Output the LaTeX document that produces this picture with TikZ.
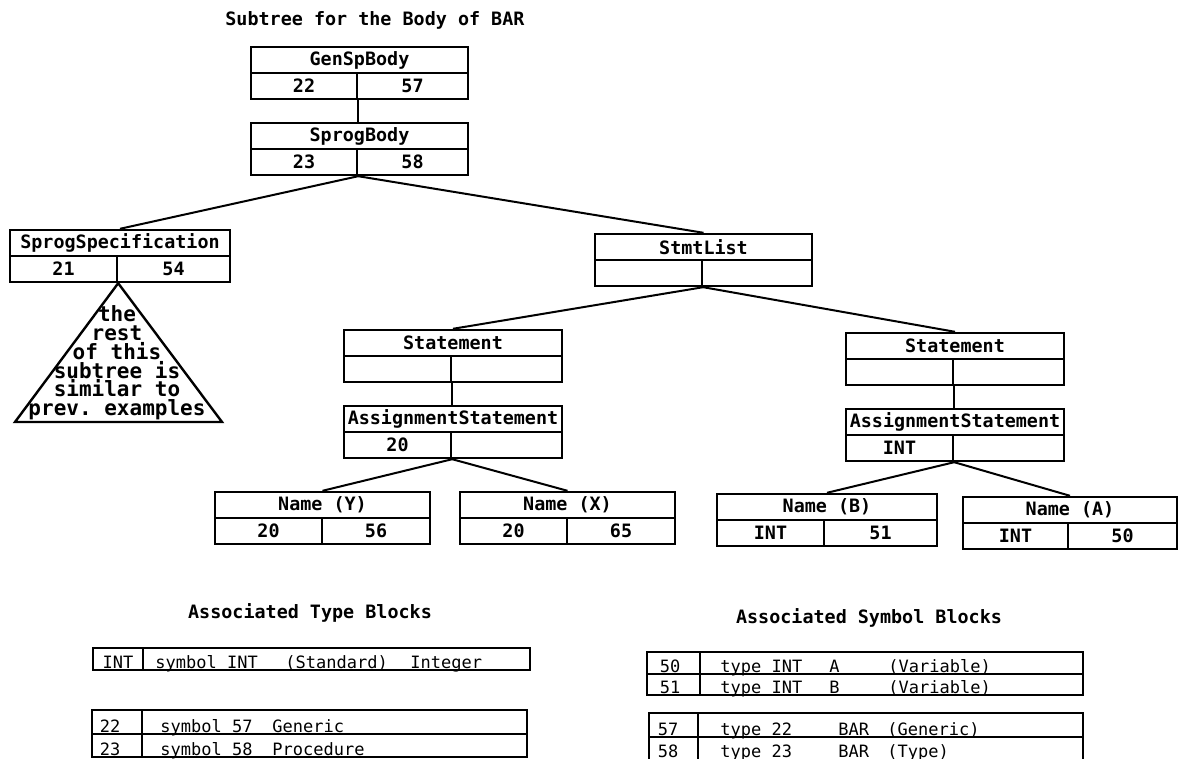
\documentclass[tikz,border=0pt]{standalone}
\usepackage{fontspec}
\setmonofont{DejaVu Sans Mono}
\usetikzlibrary{fit}
\tikzset{box/.style = {draw, line width=1.2pt, inner sep=0,
                       label={[font=\ttfamily\bfseries\fontsize{9.2}{11}\selectfont]center:#1}}}
\tikzset{link/.style = {line width=1pt}}
\tikzset{frame/.style = {line width=1.2pt}}
\tikzset{heading/.style = {inner sep=0, font=\ttfamily\bfseries\fontsize{9.2}{11}\selectfont}}
\tikzset{cell/.style = {inner sep=0, anchor=base west,
                        font=\ttfamily\fontsize{8.5}{10}\selectfont}}
% one tree record: name, left, divider, right, top, title, left field, right field
\newcommand{\recbox}[8]{%
  \node[box={#6}, fit={(#2,#5) ({#4},{#5+26})}] (#1) {};
  \node[box={#7}, fit={({#2},{#5+26}) ({#3},{#5+52})}] (#1-a) {};
  \node[box={#8}, fit={({#3},{#5+26}) ({#4},{#5+52})}] (#1-b) {};
}

\begin{document}
\begin{tikzpicture}[x=0.5pt, y=-0.5pt]
  \useasboundingbox (0,0) rectangle (1189,759);
  \node[heading, anchor=west] (title) at (225,20) {Subtree for the Body of BAR};

  \recbox{gsb}{251}{357}{468}{47}{GenSpBody}{22}{57}
  \recbox{spb}{251}{357}{468}{123}{SprogBody}{23}{58}
  \recbox{spec}{10}{117}{230}{230}{SprogSpecification}{21}{54}
  \recbox{stl}{595}{702}{812}{234}{StmtList}{}{}
  \recbox{stA}{344}{451}{562}{330}{Statement}{}{}
  \recbox{asA}{344}{451}{562}{406}{AssignmentStatement}{20}{}
  \recbox{nY}{215}{322}{430}{492}{Name (Y)}{20}{56}
  \recbox{nX}{460}{567}{675}{492}{Name (X)}{20}{65}
  \recbox{stB}{846}{953}{1064}{333}{Statement}{}{}
  \recbox{asB}{846}{953}{1064}{409}{AssignmentStatement}{INT}{}
  \recbox{nB}{717}{824}{937}{494}{Name (B)}{INT}{51}
  \recbox{nA}{963}{1068}{1177}{497}{Name (A)}{INT}{50}

  \draw[link] (gsb-a.south east) -- (gsb-a.south east |- spb.north);
  \draw[link] (spb-a.south east) -- (spec.north);
  \draw[link] (spb-a.south east) -- (stl.north);
  \draw[link] (stl-a.south east) -- (stA.north);
  \draw[link] (stl-a.south east) -- (stB.north);
  \draw[link] (stA-a.south east) -- (stA-a.south east |- asA.north);
  \draw[link] (stB-a.south east) -- (stB-a.south east |- asB.north);
  \draw[link] (asA-a.south east) -- (nY.north);
  \draw[link] (asA-a.south east) -- (nX.north);
  \draw[link] (asB-a.south east) -- (nB.north);
  \draw[link] (asB-a.south east) -- (nA.north);

  % the rest of the left subtree
  \draw[frame] (spec-a.south east) -- (15,422) -- (222,422) -- cycle;
  \node[heading, align=center, font=\ttfamily\bfseries\fontsize{10.5}{9.4}\selectfont] (rest) at (117,363)
    {the\\rest\\of this\\subtree is\\similar to\\prev. examples};

  % type blocks
  \node[heading] (types) at (310,613) {Associated Type Blocks};
  \draw[frame] (93,648) rectangle (530,670) (143,648) -- (143,670);
  \node[cell, anchor=base] (tINT) at (118,668) {INT};
  \node[cell] (tINT-a) at (155,668) {symbol INT};
  \node[cell] (tINT-b) at (285,668) {(Standard)};
  \node[cell] (tINT-c) at (410,668) {Integer};
  \draw[frame] (92,710) rectangle (527,757) (92,734) -- (527,734) (142,710) -- (142,757);
  \foreach \y/\n/\a/\b in {732/22/symbol 57/Generic, 755/23/symbol 58/Procedure} {
    \node[cell, anchor=base] (t\n) at (110,\y) {\n};
    \node[cell] (t\n-a) at (160,\y) {\a};
    \node[cell] (t\n-b) at (272,\y) {\b};
  }

  % symbol blocks
  \node[heading] (symbols) at (869,618) {Associated Symbol Blocks};
  \draw[frame] (647,652) rectangle (1083,695) (647,674) -- (1083,674) (700,652) -- (700,695);
  \foreach \y/\n/\a/\b/\c in {672/50/type INT/A/(Variable), 693/51/type INT/B/(Variable)} {
    \node[cell, anchor=base] (s\n) at (670,\y) {\n};
    \node[cell] (s\n-a) at (720,\y) {\a};
    \node[cell] (s\n-b) at (829,\y) {\b};
    \node[cell] (s\n-c) at (888,\y) {\c};
  }
  \draw[frame] (649,713) rectangle (1083,761) (649,737) -- (1083,737) (698,713) -- (698,761);
  \foreach \y/\n/\a/\b/\c in {735/57/type 22/BAR/(Generic), 757/58/type 23/BAR/(Type)} {
    \node[cell, anchor=base] (s\n) at (668,\y) {\n};
    \node[cell] (s\n-a) at (720,\y) {\a};
    \node[cell] (s\n-b) at (838,\y) {\b};
    \node[cell] (s\n-c) at (887,\y) {\c};
  }
\end{tikzpicture}
\end{document}
